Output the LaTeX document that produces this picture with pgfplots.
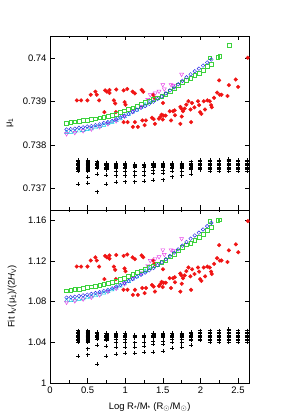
\documentclass[border=0pt]{standalone}
\usepackage{fontspec}
\setmainfont{Liberation Sans}
\usepackage{pgfplots}
\usepackage{pgfplotstable}
\pgfplotsset{compat=1.18}
\definecolor{gpred}{RGB}{240,20,20}
\definecolor{gpgreen}{RGB}{60,210,60}
\definecolor{gpblue}{RGB}{40,40,230}
\definecolor{gpmag}{RGB}{230,60,230}
\definecolor{gpcyan}{RGB}{0,200,225}

\pgfplotstableread{
x t b
0.356 0.73902 1.1144
0.413 0.73902 1.1144
0.498 0.73902 1.1144
0.542 0.73915 1.1203
0.604 0.73922 1.1235
0.622 0.73915 1.1203
0.653 0.73902 1.1144
0.733 0.73925 1.1249
0.756 0.73922 1.1235
0.791 0.73926 1.1254
0.791 0.73919 1.1222
0.880 0.73927 1.1258
0.849 0.73902 1.1144
0.867 0.73895 1.1112
0.724 0.73875 1.1021
0.876 0.73875 1.1021
0.978 0.73925 1.1249
1.027 0.73928 1.1263
0.991 0.73898 1.1126
1.004 0.73892 1.1099
1.098 0.73922 1.1235
1.129 0.73918 1.1217
1.218 0.73926 1.1254
1.240 0.73922 1.1235
1.369 0.73915 1.1203
1.387 0.73908 1.1171
1.502 0.73896 1.1117
0.978 0.73852 1.0916
1.031 0.73852 1.0916
1.102 0.73841 1.0866
1.169 0.73841 1.0866
1.129 0.73852 1.0916
1.227 0.73856 1.0934
1.258 0.73845 1.0884
1.276 0.73856 1.0934
1.356 0.73862 1.0962
1.378 0.73859 1.0948
1.396 0.73848 1.0898
1.449 0.73860 1.0953
1.467 0.73864 1.0971
1.484 0.73869 1.0994
1.498 0.73858 1.0943
1.511 0.73867 1.0985
1.538 0.73867 1.0985
1.591 0.73877 1.1030
1.609 0.73856 1.0934
1.636 0.73877 1.1030
1.658 0.73879 1.1039
1.662 0.73868 1.0989
1.733 0.73887 1.1076
1.747 0.73883 1.1057
1.751 0.73865 1.0975
1.733 0.73848 1.0898
1.769 0.73877 1.1030
1.791 0.73883 1.1057
1.813 0.73892 1.1099
1.840 0.73900 1.1135
1.867 0.73881 1.1048
1.876 0.73852 1.0916
1.889 0.73896 1.1117
1.920 0.73886 1.1071
1.969 0.73900 1.1135
1.982 0.73891 1.1094
1.996 0.73875 1.1021
2.013 0.73871 1.1003
2.044 0.73900 1.1135
2.062 0.73881 1.1048
2.093 0.73902 1.1144
2.124 0.73900 1.1135
2.142 0.73891 1.1094
2.151 0.73886 1.1071
2.182 0.73908 1.1171
2.222 0.73920 1.1226
2.249 0.73948 1.1354
2.258 0.73915 1.1203
2.280 0.73915 1.1203
2.360 0.73912 1.1190
2.378 0.73937 1.1304
2.471 0.73950 1.1363
2.502 0.73933 1.1285
2.630 0.74000 1.1591
}\redtab

\pgfplotstableread{
x t b
0.220 0.73850 1.0907
0.275 0.73851 1.0912
0.330 0.73853 1.0918
0.385 0.73854 1.0925
0.440 0.73856 1.0932
0.495 0.73857 1.0939
0.550 0.73859 1.0946
0.605 0.73860 1.0953
0.660 0.73862 1.0962
0.715 0.73864 1.0969
0.770 0.73866 1.0980
0.825 0.73868 1.0989
0.880 0.73871 1.1000
0.935 0.73874 1.1016
0.990 0.73878 1.1032
1.045 0.73881 1.1048
1.100 0.73885 1.1067
1.155 0.73889 1.1085
1.210 0.73893 1.1103
1.265 0.73897 1.1121
1.320 0.73900 1.1135
1.375 0.73904 1.1153
1.430 0.73908 1.1171
1.485 0.73911 1.1185
1.540 0.73916 1.1208
1.595 0.73923 1.1240
1.650 0.73929 1.1267
1.705 0.73936 1.1299
1.760 0.73944 1.1336
1.815 0.73949 1.1358
1.870 0.73953 1.1377
1.925 0.73959 1.1404
1.980 0.73965 1.1432
2.035 0.73972 1.1463
2.090 0.73980 1.1500
2.124 0.74000 1.1591
2.142 0.73986 1.1527
2.231 0.74002 1.1600
2.258 0.74003 1.1605
2.378 0.74029 1.1723
}\greentab

\pgfplotstableread{
x t b
0.220 0.73835 1.0839
0.275 0.73836 1.0843
0.330 0.73837 1.0848
0.385 0.73839 1.0855
0.440 0.73840 1.0861
0.495 0.73842 1.0868
0.550 0.73843 1.0875
0.605 0.73845 1.0884
0.660 0.73847 1.0893
0.715 0.73850 1.0905
0.770 0.73852 1.0916
0.825 0.73855 1.0930
0.880 0.73859 1.0948
0.935 0.73863 1.0964
0.990 0.73867 1.0985
1.045 0.73871 1.1003
1.100 0.73876 1.1023
1.155 0.73880 1.1044
1.210 0.73885 1.1064
1.265 0.73889 1.1085
1.320 0.73894 1.1108
1.375 0.73899 1.1130
1.430 0.73905 1.1158
1.485 0.73911 1.1185
1.540 0.73918 1.1217
1.595 0.73925 1.1249
1.650 0.73932 1.1281
1.705 0.73939 1.1313
1.760 0.73947 1.1349
1.815 0.73955 1.1386
1.870 0.73962 1.1418
1.925 0.73969 1.1450
1.980 0.73975 1.1477
2.035 0.73982 1.1509
2.090 0.73989 1.1541
2.145 0.73996 1.1573
}\bluetab

\pgfplotstableread{
x t b
0.220 0.73828 1.0807
0.275 0.73829 1.0811
0.330 0.73830 1.0816
0.385 0.73832 1.0823
0.440 0.73833 1.0829
0.495 0.73835 1.0839
0.550 0.73837 1.0848
0.605 0.73840 1.0859
0.660 0.73842 1.0871
0.715 0.73845 1.0884
0.770 0.73849 1.0900
0.825 0.73852 1.0916
0.880 0.73856 1.0934
0.935 0.73860 1.0953
0.990 0.73865 1.0975
1.045 0.73870 1.0998
1.100 0.73875 1.1021
1.155 0.73880 1.1044
1.210 0.73886 1.1071
1.265 0.73892 1.1099
1.320 0.73898 1.1126
}\cyantab

\pgfplotstableread{
x t b
0.220 0.73825 1.0793
0.330 0.73828 1.0807
0.440 0.73832 1.0825
0.550 0.73836 1.0843
0.660 0.73841 1.0866
0.770 0.73848 1.0898
0.880 0.73855 1.0930
0.990 0.73865 1.0975
1.100 0.73876 1.1026
1.210 0.73888 1.1080
1.300 0.73904 1.1153
1.333 0.73915 1.1203
1.400 0.73919 1.1222
1.450 0.73923 1.1240
1.500 0.73938 1.1308
1.520 0.73928 1.1263
1.610 0.73938 1.1308
1.640 0.73936 1.1299
1.750 0.73962 1.1418
}\magtab

\pgfplotstableread{
x t b
0.375 0.73740 1.0405
0.375 0.73743 1.0419
0.375 0.73746 1.0433
0.375 0.73749 1.0446
0.375 0.73752 1.0460
0.375 0.73755 1.0474
0.375 0.73758 1.0487
0.375 0.73761 1.0501
0.375 0.73764 1.0515
0.375 0.73709 1.0264
0.500 0.73740 1.0405
0.500 0.73743 1.0419
0.500 0.73746 1.0433
0.500 0.73749 1.0446
0.500 0.73752 1.0460
0.500 0.73755 1.0474
0.500 0.73758 1.0487
0.500 0.73761 1.0501
0.500 0.73764 1.0515
0.500 0.73725 1.0337
0.500 0.73712 1.0278
0.625 0.73746 1.0433
0.625 0.73749 1.0446
0.625 0.73752 1.0460
0.625 0.73755 1.0474
0.625 0.73758 1.0487
0.625 0.73761 1.0501
0.625 0.73733 1.0373
0.625 0.73692 1.0187
0.750 0.73743 1.0419
0.750 0.73746 1.0433
0.750 0.73749 1.0446
0.750 0.73752 1.0460
0.750 0.73755 1.0474
0.750 0.73758 1.0487
0.750 0.73731 1.0364
0.750 0.73709 1.0264
0.875 0.73746 1.0433
0.875 0.73749 1.0446
0.875 0.73752 1.0460
0.875 0.73755 1.0474
0.875 0.73758 1.0487
0.875 0.73738 1.0396
0.875 0.73729 1.0355
0.875 0.73714 1.0287
1.000 0.73746 1.0433
1.000 0.73749 1.0446
1.000 0.73752 1.0460
1.000 0.73755 1.0474
1.000 0.73758 1.0487
1.000 0.73738 1.0396
1.000 0.73729 1.0355
1.000 0.73715 1.0291
1.125 0.73749 1.0446
1.125 0.73752 1.0460
1.125 0.73755 1.0474
1.125 0.73738 1.0396
1.125 0.73729 1.0355
1.125 0.73715 1.0291
1.250 0.73749 1.0446
1.250 0.73752 1.0460
1.250 0.73755 1.0474
1.250 0.73739 1.0401
1.250 0.73731 1.0364
1.250 0.73717 1.0301
1.375 0.73749 1.0446
1.375 0.73752 1.0460
1.375 0.73755 1.0474
1.375 0.73758 1.0487
1.375 0.73742 1.0415
1.375 0.73735 1.0383
1.375 0.73718 1.0305
1.500 0.73749 1.0446
1.500 0.73752 1.0460
1.500 0.73755 1.0474
1.500 0.73758 1.0487
1.500 0.73742 1.0415
1.500 0.73735 1.0383
1.500 0.73720 1.0314
1.625 0.73746 1.0433
1.625 0.73749 1.0446
1.625 0.73752 1.0460
1.625 0.73755 1.0474
1.625 0.73758 1.0487
1.625 0.73740 1.0405
1.625 0.73727 1.0346
1.750 0.73746 1.0433
1.750 0.73749 1.0446
1.750 0.73752 1.0460
1.750 0.73755 1.0474
1.750 0.73758 1.0487
1.750 0.73738 1.0396
1.750 0.73729 1.0355
1.875 0.73743 1.0419
1.875 0.73746 1.0433
1.875 0.73749 1.0446
1.875 0.73752 1.0460
1.875 0.73755 1.0474
1.875 0.73758 1.0487
1.875 0.73761 1.0501
1.875 0.73732 1.0369
2.000 0.73743 1.0419
2.000 0.73746 1.0433
2.000 0.73749 1.0446
2.000 0.73752 1.0460
2.000 0.73755 1.0474
2.000 0.73758 1.0487
2.000 0.73761 1.0501
2.000 0.73764 1.0515
2.125 0.73740 1.0405
2.125 0.73743 1.0419
2.125 0.73746 1.0433
2.125 0.73749 1.0446
2.125 0.73752 1.0460
2.125 0.73755 1.0474
2.125 0.73758 1.0487
2.125 0.73761 1.0501
2.125 0.73764 1.0515
2.250 0.73740 1.0405
2.250 0.73743 1.0419
2.250 0.73746 1.0433
2.250 0.73749 1.0446
2.250 0.73752 1.0460
2.250 0.73755 1.0474
2.250 0.73758 1.0487
2.250 0.73761 1.0501
2.250 0.73764 1.0515
2.375 0.73740 1.0405
2.375 0.73743 1.0419
2.375 0.73746 1.0433
2.375 0.73749 1.0446
2.375 0.73752 1.0460
2.375 0.73755 1.0474
2.375 0.73758 1.0487
2.375 0.73761 1.0501
2.375 0.73764 1.0515
2.375 0.73767 1.0529
2.500 0.73740 1.0405
2.500 0.73743 1.0419
2.500 0.73746 1.0433
2.500 0.73749 1.0446
2.500 0.73752 1.0460
2.500 0.73755 1.0474
2.500 0.73758 1.0487
2.500 0.73761 1.0501
2.500 0.73764 1.0515
2.625 0.73740 1.0405
2.625 0.73743 1.0419
2.625 0.73746 1.0433
2.625 0.73749 1.0446
2.625 0.73752 1.0460
2.625 0.73755 1.0474
2.625 0.73758 1.0487
2.625 0.73761 1.0501
2.625 0.73764 1.0515
}\plustab

\pgfplotstableread{
x t b
0.375 0.73743 1.0419
0.375 0.73746 1.0433
0.375 0.73749 1.0446
0.375 0.73752 1.0460
0.375 0.73755 1.0474
0.375 0.73758 1.0487
0.375 0.73761 1.0501
0.500 0.73743 1.0419
0.500 0.73746 1.0433
0.500 0.73749 1.0446
0.500 0.73752 1.0460
0.500 0.73755 1.0474
0.500 0.73758 1.0487
0.500 0.73761 1.0501
0.625 0.73749 1.0446
0.625 0.73752 1.0460
0.625 0.73755 1.0474
0.625 0.73758 1.0487
0.750 0.73746 1.0433
0.750 0.73749 1.0446
0.750 0.73752 1.0460
0.750 0.73755 1.0474
0.875 0.73752 1.0460
0.875 0.73755 1.0474
1.000 0.73752 1.0460
1.000 0.73755 1.0474
1.125 0.73752 1.0460
1.250 0.73752 1.0460
1.375 0.73752 1.0460
1.375 0.73755 1.0474
1.500 0.73752 1.0460
1.500 0.73755 1.0474
1.625 0.73752 1.0460
1.625 0.73755 1.0474
1.750 0.73752 1.0460
1.750 0.73755 1.0474
1.875 0.73752 1.0460
1.875 0.73755 1.0474
}\sqtab

\pgfplotsset{
  panel/.style={
    scale only axis, width=199.3bp, xmin=0, xmax=2.65,
    xtick={0,0.5,1,1.5,2,2.5}, minor xtick={0.25,0.75,1.25,1.75,2.25},
    tick align=inside, major tick length=4.5bp, minor tick length=2.5bp,
    every tick/.style={black, line width=0.45pt},
    axis line style={line width=0.6pt},
    tick label style={font=\fontsize{9.5}{11}\selectfont, black},
    label style={font=\fontsize{9.5}{11}\selectfont},
    /pgf/number format/assume math mode=true,
    scaled y ticks=false, scaled x ticks=false,
  },
  sred/.style={only marks, mark=*, mark size=1.85bp, color=gpred},
  sgreen/.style={only marks, mark=square, mark size=1.9bp, color=gpgreen, line width=0.45pt},
  sblue/.style={only marks, mark=o, mark size=1.8bp, color=gpblue, line width=0.45pt},
  smag/.style={only marks, mark=triangle, mark size=2.3bp, color=gpmag, line width=0.45pt, mark options={rotate=180}},
  scyan/.style={only marks, mark=triangle, mark size=2.3bp, color=gpcyan, line width=0.45pt},
  splus/.style={only marks, mark=+, mark size=2bp, color=black, line width=0.5pt},
  ssq/.style={only marks, mark=square*, mark size=1.3bp, color=black},
}

\begin{document}
\begin{tikzpicture}
\path[use as bounding box] (0,0) rectangle (300bp,420bp);
\begin{axis}[panel, at={(50bp,384bp)}, anchor=north west, height=174bp,
  ymin=0.7365, ymax=0.7405,
  ytick={0.737,0.738,0.739,0.74}, yticklabels={0.737,0.738,0.739,0.74},
  xticklabels={},
  ylabel={μ\textsubscript{1}},
  y label style={at={(axis description cs:-0.2,0.5)}, anchor=center},
]
\addplot[sred] table[x=x,y=t] {\redtab};
\addplot[scyan] table[x=x,y=t] {\cyantab};
\addplot[smag] table[x=x,y=t] {\magtab};
\addplot[sgreen] table[x=x,y=t] {\greentab};
\addplot[sblue] table[x=x,y=t] {\bluetab};
\addplot[splus] table[x=x,y=t] {\plustab};
\addplot[ssq] table[x=x,y=t] {\sqtab};
\end{axis}
\begin{axis}[panel, at={(50bp,210bp)}, anchor=north west, height=173bp,
  ymin=1, ymax=1.17,
  ytick={1,1.04,1.08,1.12,1.16}, yticklabels={1,1.04,1.08,1.12,1.16},
  xticklabels={0,0.5,1,1.5,2,2.5},
  ylabel={Fit I\textsubscript{V}(μ\textsubscript{1})/(2\textit{H}\textsubscript{V})},
  y label style={at={(axis description cs:-0.19,0.5)}, anchor=center},
  xlabel={Log R\textsubscript{*}/M\textsubscript{*} (R$_\odot$/M$_\odot$)},
  x label style={at={(axis description cs:0.5,-0.138)}, anchor=center},
]
\addplot[sred] table[x=x,y=b] {\redtab};
\addplot[scyan] table[x=x,y=b] {\cyantab};
\addplot[smag] table[x=x,y=b] {\magtab};
\addplot[sgreen] table[x=x,y=b] {\greentab};
\addplot[sblue] table[x=x,y=b] {\bluetab};
\addplot[splus] table[x=x,y=b] {\plustab};
\addplot[ssq] table[x=x,y=b] {\sqtab};
\end{axis}
\end{tikzpicture}
\end{document}
